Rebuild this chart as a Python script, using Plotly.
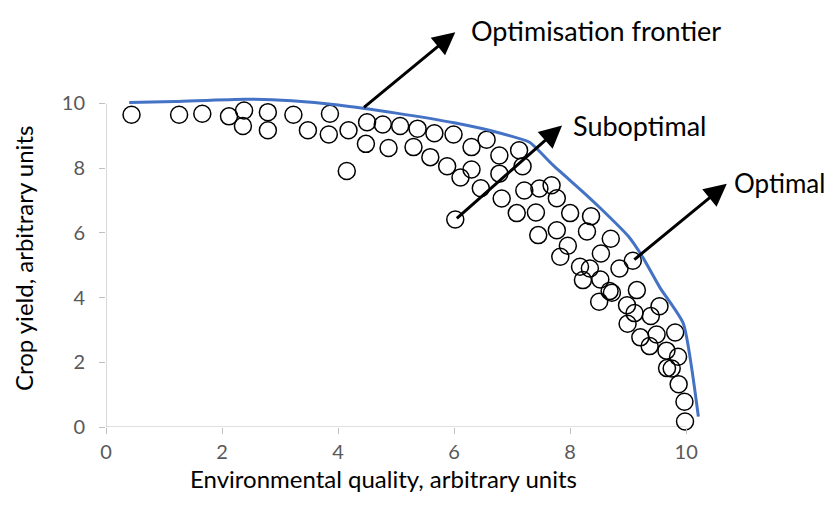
import plotly.graph_objects as go

# ---- data ----
env_quality = [0.44, 1.26, 1.66, 2.12, 2.38, 2.36, 2.79, 2.79, 3.23, 3.48, 3.86, 3.84, 4.18, 4.15,
               4.50, 4.48, 4.77, 4.87, 5.07, 5.37, 5.30, 5.66, 5.59, 5.99, 5.88, 6.11, 6.30, 6.56,
               6.30, 6.46, 6.78, 6.78, 7.12, 7.18, 6.82, 7.21, 7.47, 7.68, 7.77, 7.08, 7.41, 8.00,
               8.36, 6.02, 7.45, 7.77, 7.96, 7.83, 8.29, 8.70, 8.53, 8.17, 8.34, 8.22, 8.52, 8.85,
               9.08, 8.50, 8.68, 8.72, 9.15, 8.98, 9.11, 8.99, 9.54, 9.39, 9.21, 9.37, 9.49, 9.81,
               9.66, 9.86, 9.67, 9.75, 9.87, 9.97, 9.98]
crop_yield = [9.65, 9.65, 9.68, 9.60, 9.78, 9.30, 9.73, 9.17, 9.65, 9.17, 9.68, 9.04, 9.17, 7.91,
              9.42, 8.75, 9.35, 8.62, 9.30, 9.22, 8.65, 9.08, 8.34, 9.04, 8.06, 7.71, 8.65, 8.88,
              7.96, 7.38, 8.39, 7.83, 8.55, 8.06, 7.06, 7.31, 7.37, 7.47, 7.07, 6.61, 6.63, 6.61,
              6.51, 6.41, 5.93, 6.08, 5.60, 5.26, 6.04, 5.82, 5.36, 4.95, 4.90, 4.54, 4.56, 4.90,
              5.14, 3.87, 4.20, 4.15, 4.23, 3.76, 3.52, 3.19, 3.73, 3.43, 2.77, 2.50, 2.86, 2.92,
              2.36, 2.17, 1.82, 1.81, 1.32, 0.78, 0.17]

frontier_x = [0.40, 1.20, 2.40, 3.20, 4.00, 5.00, 6.00, 6.80, 7.30, 7.70, 8.20, 8.50, 9.00, 9.25, 9.55, 9.95, 10.21]
frontier_y = [10.03, 10.06, 10.13, 10.08, 9.95, 9.70, 9.40, 9.08, 8.80, 8.10, 7.30, 6.80, 5.90, 5.25, 4.30, 3.20, 0.32]

x_ticks = [0, 2, 4, 6, 8, 10]
y_ticks = [0, 2, 4, 6, 8, 10]

x_title = "Environmental quality, arbitrary units"
y_title = "Crop yield, arbitrary units"

# annotated points: (label, tail point, arrow head, label anchor x, label y, anchor side), data units
frontier_pt = (4.42, 9.84)
suboptimal_pt = (env_quality[43], crop_yield[43])
optimal_pt = (env_quality[56], crop_yield[56])
labels = [
    ("Optimisation frontier", frontier_pt, (6.02, 12.2), 6.26, 12.25, "left", 27),
    ("Suboptimal", suboptimal_pt, (7.86, 9.32), 8.02, 9.32, "left", 27),
    ("Optimal", optimal_pt, (10.70, 7.52), 12.42, 7.53, "right", 26),
]

FONT = "Lato, 'Open Sans', sans-serif"
XMAX, YMAX = 10.6, 10.6
W = 58.0   # pixels per x unit
H = 32.4   # pixels per y unit
PAGE_MARGIN = 8  # default body margin of the html page
FIG_W, FIG_H = 834 - PAGE_MARGIN, 518 - PAGE_MARGIN
X0_PX = 106 - PAGE_MARGIN   # x = 0 position in figure pixels
Y0_PX = 427 - PAGE_MARGIN   # y = 0 position in figure pixels


def px(v):
    return v / XMAX


def py(v):
    return v / YMAX


fig = go.Figure()
fig.add_trace(go.Scatter(
    x=env_quality, y=crop_yield, mode="markers",
    marker=dict(symbol="circle-open", size=17, color="black", line=dict(width=1.5, color="black")),
    cliponaxis=False, showlegend=False, hoverinfo="x+y"))
fig.add_trace(go.Scatter(
    x=frontier_x, y=frontier_y, mode="lines",
    line=dict(color="#4472C4", width=3, shape="spline", smoothing=0.5),
    showlegend=False))

annotations = []
for text, tail, head, lx, ly, side, fsize in labels:
    annotations.append(dict(
        x=px(head[0]), y=py(head[1]),
        ax=(tail[0] - head[0]) * W, ay=-(tail[1] - head[1]) * H,
        xref="paper", yref="paper",
        text="", showarrow=True, arrowhead=2, arrowsize=1.5, arrowwidth=3, arrowcolor="black",
        standoff=0, startstandoff=0))
    annotations.append(dict(
        x=px(lx), y=py(ly), xref="paper", yref="paper", text=text, showarrow=False,
        xanchor=side, yanchor="middle", font=dict(family=FONT, size=fsize, color="black")))

# axis titles
annotations.append(dict(x=px(4.78), y=-0.151, xref="paper", yref="paper", text=x_title, showarrow=False,
                        xanchor="center", yanchor="middle", font=dict(family=FONT, size=24, color="black")))
annotations.append(dict(x=-0.135, y=py(5.22), xref="paper", yref="paper", text=y_title, showarrow=False,
                        textangle=-90, xanchor="center", yanchor="middle",
                        font=dict(family=FONT, size=24, color="black")))

shapes = [
    dict(type="line", xref="x", yref="y", x0=0, y0=0, x1=10, y1=0, line=dict(color="#BFBFBF", width=1.2), layer="below"),
    dict(type="line", xref="x", yref="y", x0=0, y0=0, x1=0, y1=10, line=dict(color="#BFBFBF", width=1.2), layer="below"),
]

fig.update_layout(
    width=FIG_W, height=FIG_H,
    margin=dict(l=X0_PX, r=FIG_W - X0_PX - W * XMAX, t=Y0_PX - H * YMAX, b=FIG_H - Y0_PX, pad=0),
    paper_bgcolor="white", plot_bgcolor="white",
    annotations=annotations, shapes=shapes,
    xaxis=dict(range=[0, XMAX], tickvals=x_ticks, ticktext=[str(v) for v in x_ticks],
               showgrid=False, zeroline=False, showline=False,
               ticks="outside", ticklen=6, tickcolor="#BFBFBF", tickwidth=1.2,
               tickfont=dict(family=FONT, size=20, color="#595959"), ticklabelstandoff=1),
    yaxis=dict(range=[0, YMAX], tickvals=y_ticks, ticktext=[str(v) for v in y_ticks],
               showgrid=False, zeroline=False, showline=False,
               ticks="outside", ticklen=6, tickcolor="#BFBFBF", tickwidth=1.2,
               tickfont=dict(family=FONT, size=20, color="#595959"), ticklabelstandoff=10),
)

fig.write_html("out.html")
